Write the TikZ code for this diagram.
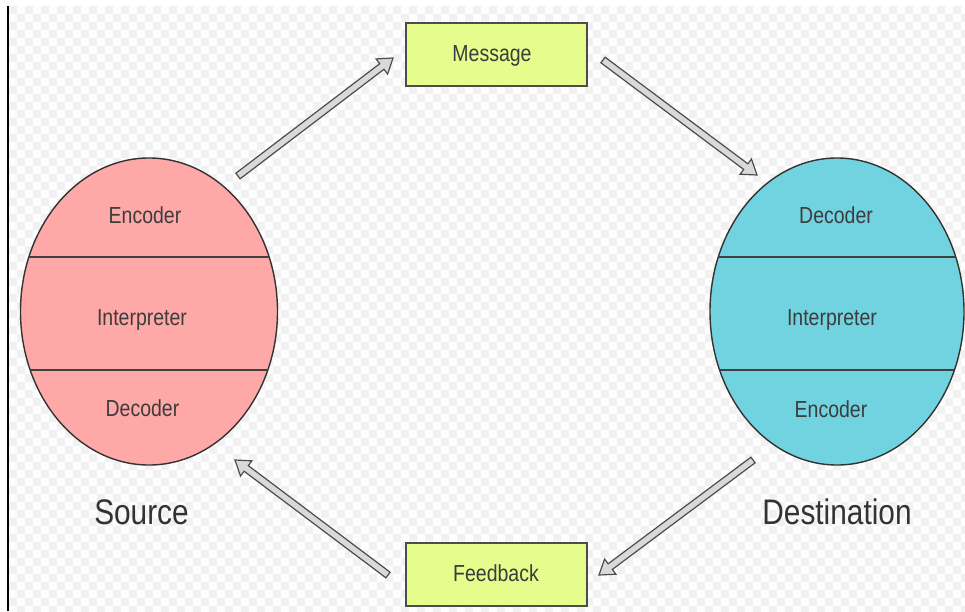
\documentclass[tikz,border=0pt]{standalone}
\usepackage{fontspec}
\setmainfont{Liberation Sans}[FakeStretch=0.84]
\usetikzlibrary{calc,shapes.geometric}

\definecolor{srcfill}{HTML}{FFA8A8}
\definecolor{dstfill}{HTML}{72D3E0}
\definecolor{boxfill}{HTML}{E6FC8C}
\definecolor{inkgray}{HTML}{3C3C3C}
\definecolor{tilegray}{HTML}{F1F1F1}
\definecolor{tilelight}{HTML}{FDFDFD}
\definecolor{arrowfill}{HTML}{D9D9D9}

\tikzset{
  lobe/.style={ellipse, draw=black!80, line width=1.4pt, inner sep=0pt},
  divider/.style={draw=black!75, line width=1.8pt},
  layer/.style={anchor=base, text=inkgray, font=\fontsize{23.2}{28}\selectfont},
  msgbox/.style={draw=black!70, line width=1.5pt, fill=boxfill,
    minimum width=181pt, minimum height=63pt, inner sep=0pt},
  caption/.style={anchor=base, text=black!80, font=\fontsize{35.5}{40}\selectfont},
  hollow/.style={fill=arrowfill, draw=black!70, line width=1.2pt, line join=miter},
}

% broad outlined arrow from coordinate #1 to coordinate #2
\newcommand\hollowarrow[2]{%
  \draw[hollow] let \p1=(#1), \p2=(#2),
      \n1={atan2(\y2-\y1,\x2-\x1)},
      \n2={veclen(\x2-\x1,\y2-\y1)-14} in
    ($(\p1)+(\n1+90:3.5pt)$)
    -- ($(\p1)+(\n1:\n2)+(\n1+90:3.5pt)$)
    -- ($(\p1)+(\n1:\n2)+(\n1+90:9.5pt)$)
    -- (\p2)
    -- ($(\p1)+(\n1:\n2)+(\n1-90:9.5pt)$)
    -- ($(\p1)+(\n1:\n2)+(\n1-90:3.5pt)$)
    -- ($(\p1)+(\n1-90:3.5pt)$) -- cycle;%
}

\begin{document}
\begin{tikzpicture}[x=1pt,y=1pt]
  \useasboundingbox (0,0) rectangle (965,-611);

  % page background with light checker tiles
  \fill[white] (0,0) rectangle (965,-611);
  \fill[tilelight] (9,-6) rectangle (965,-611);
  \begin{scope}
    \clip (9,-6) rectangle (965,-611);
    \foreach \r in {0,...,76} {
      \pgfmathtruncatemacro\off{mod(\r,2)*8}
      \foreach \c in {0,16,...,960} {
        \fill[tilegray] ({9+\c+\off},{-6-8*\r}) rectangle ++(8,-8);
      }
    }
  \end{scope}
  \fill[black] (7.3,-6) rectangle (9.3,-611);

  % sender
  \node[lobe, fill=srcfill, minimum width=257pt, minimum height=307pt] (src) at (149,-311.5) {};
  \begin{scope}
    \path[clip] (src.center) ellipse [x radius=128.5pt, y radius=153.5pt];
    \draw[divider] (src.west |- 0,-257) -- (src.east |- 0,-257);
    \draw[divider] (src.west |- 0,-370) -- (src.east |- 0,-370);
  \end{scope}
  \node[layer] (srcenc) at (145,-223) {Encoder};
  \node[layer] (srcint) at (142,-325) {Interpreter};
  \node[layer] (srcdec) at (142.5,-416.5) {Decoder};
  \node[caption] (srclabel) at (141.5,-524) {Source};

  % receiver
  \node[lobe, fill=dstfill, minimum width=254pt, minimum height=307pt] (dst) at (837,-311.5) {};
  \begin{scope}
    \path[clip] (dst.center) ellipse [x radius=127pt, y radius=153.5pt];
    \draw[divider] (dst.west |- 0,-257) -- (dst.east |- 0,-257);
    \draw[divider] (dst.west |- 0,-370) -- (dst.east |- 0,-370);
  \end{scope}
  \node[layer] (dstdec) at (836,-223) {Decoder};
  \node[layer] (dstint) at (832,-325) {Interpreter};
  \node[layer] (dstenc) at (831,-417.5) {Encoder};
  \node[caption] (dstlabel) at (837,-524) {Destination};

  % message and feedback boxes
  \node[msgbox] (msg) at (496.5,-54.5) {};
  \node[layer] (msgtext) at (492,-61) {Message};
  \node[msgbox] (fb) at (496.5,-574.5) {};
  \node[layer] (fbtext) at (496,-581) {Feedback};

  % arrow ends
  \coordinate (a1s) at (238,-176);
  \coordinate (a1e) at (393,-58);
  \coordinate (a2s) at (603,-60);
  \coordinate (a2e) at (757,-175);
  \coordinate (a3s) at (753,-460);
  \coordinate (a3e) at (599,-575);
  \coordinate (a4s) at (388,-575);
  \coordinate (a4e) at (235,-460);

  \hollowarrow{a1s}{a1e}
  \hollowarrow{a2s}{a2e}
  \hollowarrow{a3s}{a3e}
  \hollowarrow{a4s}{a4e}
\end{tikzpicture}
\end{document}
